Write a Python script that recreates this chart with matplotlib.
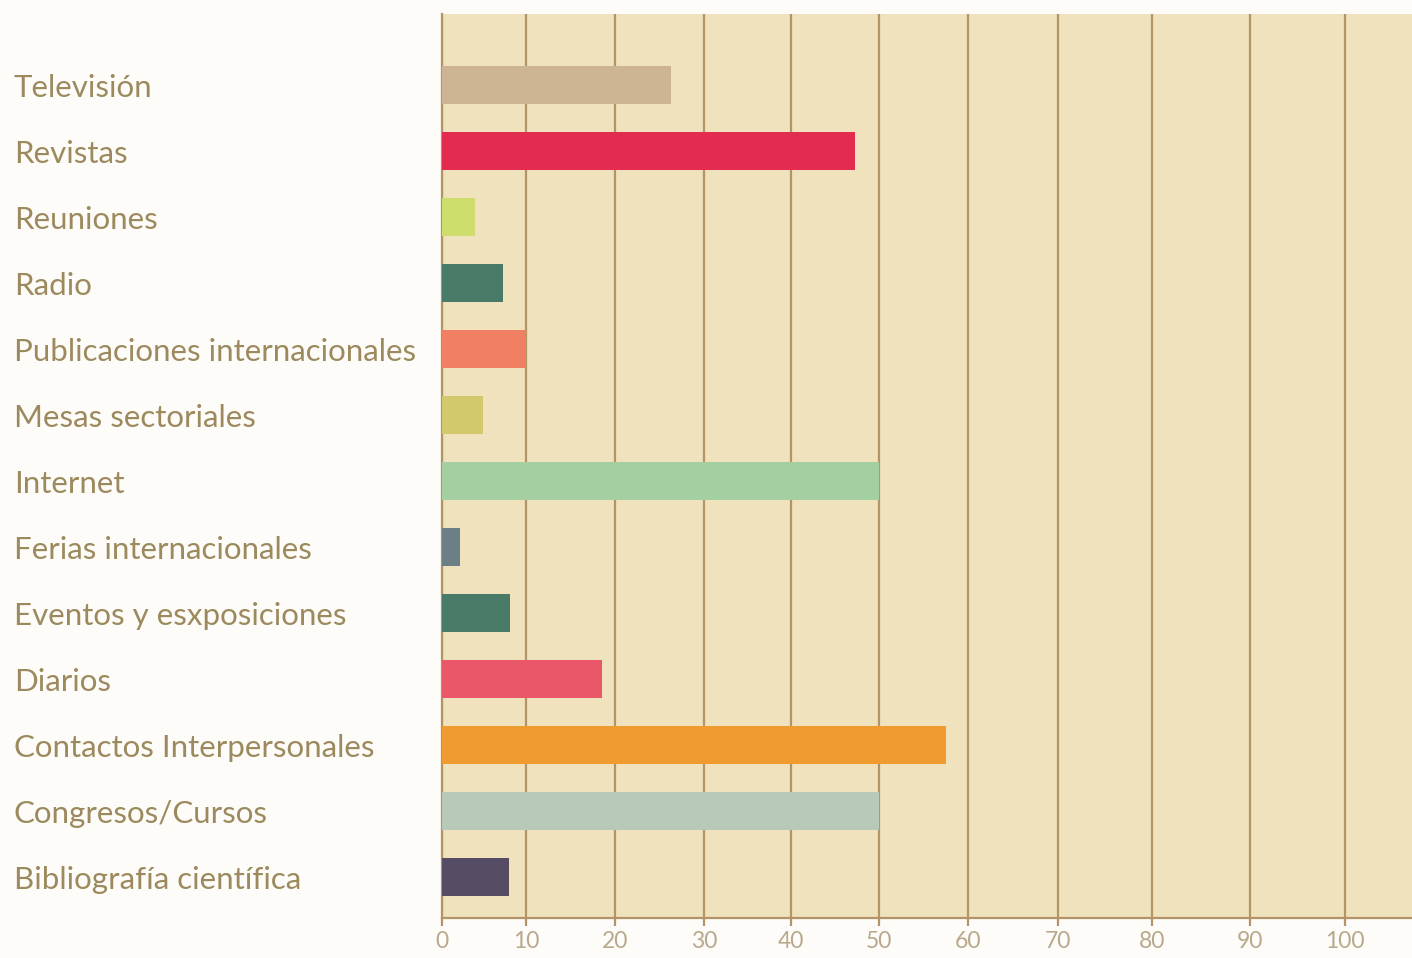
import matplotlib
matplotlib.use("Agg")
import matplotlib.pyplot as plt
import numpy as np

# data, bottom to top as drawn
categories = [
    "Bibliografía científica",
    "Congresos/Cursos",
    "Contactos Interpersonales",
    "Diarios",
    "Eventos y esxposiciones",
    "Ferias internacionales",
    "Internet",
    "Mesas sectoriales",
    "Publicaciones internacionales",
    "Radio",
    "Reuniones",
    "Revistas",
    "Televisión",
]
values = [8.0, 50.0, 57.5, 18.5, 8.1, 2.1, 50.0, 4.9, 10.0, 7.3, 3.9, 47.2, 26.3]
colors = [
    "#564c64", "#b9c9b8", "#ef9b30", "#ea5768", "#4a7b68", "#6b7f87",
    "#a4cfa0", "#d3c86c", "#f07f64", "#4a7b68", "#cfdd6c", "#e22b4e", "#cdb594",
]
x_ticks = [0, 10, 20, 30, 40, 50, 60, 70, 80, 90, 100]

# the original axis is hand-spaced: tick spacing grows towards the right
tick_px = [443, 527, 616, 705, 792, 880, 968, 1058, 1152, 1250, 1345]
scale_v = [-10] + x_ticks + [120]
scale_p = [359] + tick_px + [1535]


def fwd(x):
    return np.interp(x, scale_v, scale_p)


def inv(p):
    return np.interp(p, scale_p, scale_v)


line_col = "#b39466"
label_col = "#9c8a5e"
tick_col = "#b8a98c"

fig = plt.figure(figsize=(14.12, 9.58), dpi=100, facecolor="#fdfcf8")
ax = fig.add_axes([442 / 1412, 1 - 918 / 958, 1 - 442 / 1412, (918 - 14) / 958])
ax.set_facecolor("#efe2bd")
ax.set_xscale("function", functions=(fwd, inv))

ypos = list(range(len(categories)))
ax.barh(ypos, values, height=0.58, color=colors, zorder=3)

ax.set_xlim(0, float(inv(1412)))
ax.set_ylim(-0.62, len(categories) - 1 + 1.08)

ax.set_xticks(x_ticks)
ax.set_xticklabels([str(t) for t in x_ticks], fontsize=16.5, color=tick_col,
                   fontfamily="Lato")
ax.tick_params(axis="x", length=6, width=1.6, color=line_col, pad=3)
ax.grid(axis="x", color=line_col, linewidth=1.6, zorder=1)

ax.set_yticks(ypos)
ax.set_yticklabels(categories, fontsize=22.5, color=label_col, fontfamily="Lato",
                   ha="left")
ax.tick_params(axis="y", length=0, pad=428 * 72 / 100)

for side in ["top", "right"]:
    ax.spines[side].set_visible(False)
for side in ["left", "bottom"]:
    ax.spines[side].set_color(line_col)
    ax.spines[side].set_linewidth(1.6)

fig.savefig("out.png", dpi=100, facecolor=fig.get_facecolor())
